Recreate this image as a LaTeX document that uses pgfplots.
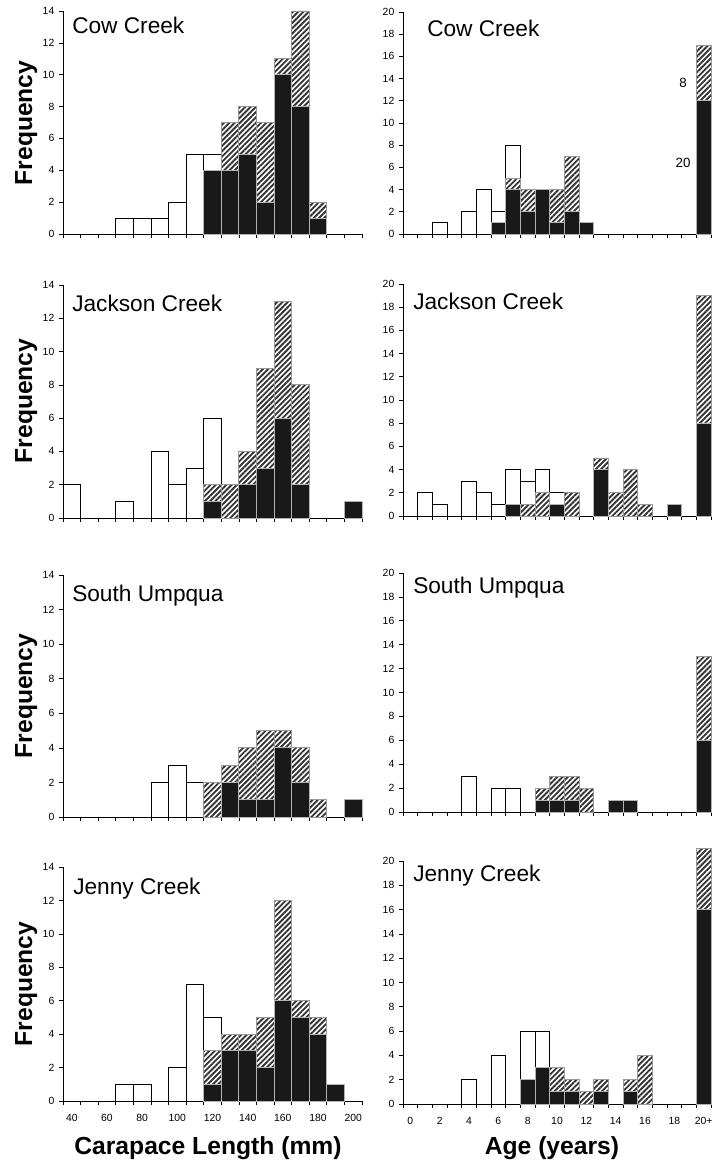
\documentclass[border=0pt]{standalone}
\usepackage{fontspec}
\setmainfont{Liberation Sans}
\usepackage{pgfplots}
\pgfplotsset{compat=1.18}
\usetikzlibrary{patterns.meta}
\tikzset{ttl/.style={anchor=base west, inner sep=0pt, font=\fontsize{17}{20}\selectfont}}
\pgfplotsset{
  hist/.style={ybar, bar width=1, bar shift=0pt, line width=0.6pt},
  wbar/.style={hist, fill=white, draw=black},
  hbar/.style={hist, draw=gray!80, pattern={Lines[angle=45,distance=2.8pt,line width=1.4pt]}, pattern color=black!80},
  bbar/.style={hist, fill=black!90, draw=gray!60},
  panel/.style={scale only axis, clip=false, anchor=south west,
    axis x line=bottom, axis y line=left, axis line style={-, line width=0.6pt},
    tick align=outside, ymin=0, enlargelimits=false,
    tick style={black, line width=0.5pt}, major tick length=3pt, minor tick length=3pt,
    major x tick style={draw=none},
    /pgf/number format/assume math mode=true,
    ticklabel style={font=\fontsize{7.8}{9}\selectfont},
    xticklabel style={yshift=-3.5pt}},
  sizepanel/.style={panel, width=224.25pt, xmin=-0.5, xmax=16.5, ymax=14, ytick={0,2,...,14},
    xtick={0,2,...,16}, minor xtick={-0.5,0.5,...,16.5}},
  agepanel/.style={panel, width=231pt, xmin=-0.5, xmax=20.5, ymax=20, ytick={0,2,...,20},
    xtick={0,2,...,20}, minor xtick={-0.5,0.5,...,20.5}},
  notlab/.style={xticklabels={}}
}
\begin{document}
\begin{tikzpicture}
\path[use as bounding box] (0,0) rectangle (535.5pt,870pt);
% ---------- Row 1 ----------
\begin{axis}[sizepanel, notlab, at={(47.25pt,694.5pt)}, height=167.25pt]
\addplot[wbar] coordinates {(3,1)(4,1)(5,1)(6,2)(7,5)(8,5)};
\addplot[hbar] coordinates {(9,7)(10,8)(11,7)(12,11)(13,14)(14,2)};
\addplot[bbar] coordinates {(8,4)(9,4)(10,5)(11,2)(12,10)(13,8)(14,1)};
\node[ttl, xshift=6.75pt, yshift=-17.25pt] at (rel axis cs:0,1) {Cow Creek};
\end{axis}
\begin{axis}[agepanel, notlab, at={(302.25pt,694.5pt)}, height=166.5pt]
\addplot[wbar] coordinates {(2,1)(4,2)(5,4)(6,2)(7,8)};
\addplot[hbar] coordinates {(7,5)(8,4)(10,4)(11,7)(20,17)};
\addplot[bbar] coordinates {(6,1)(7,4)(8,2)(9,4)(10,1)(11,2)(12,1)(20,12)};
\node[ttl, xshift=18pt, yshift=-18.75pt] at (rel axis cs:0,1) {Cow Creek};
\node[anchor=base, inner sep=0pt, font=\fontsize{10}{12}\selectfont] at (axis cs:18.6,13.2) {8};
\node[anchor=base, inner sep=0pt, font=\fontsize{10}{12}\selectfont] at (axis cs:18.6,6.0) {20};
\end{axis}
% ---------- Row 2 ----------
\begin{axis}[sizepanel, notlab, at={(47.25pt,481.5pt)}, height=174.75pt]
\addplot[wbar] coordinates {(0,2)(3,1)(5,4)(6,2)(7,3)(8,6)};
\addplot[hbar] coordinates {(8,2)(9,2)(10,4)(11,9)(12,13)(13,8)};
\addplot[bbar] coordinates {(8,1)(10,2)(11,3)(12,6)(13,2)(16,1)};
\node[ttl, xshift=6.75pt, yshift=-20.25pt] at (rel axis cs:0,1) {Jackson Creek};
\end{axis}
\begin{axis}[agepanel, notlab, at={(302.25pt,483pt)}, height=174pt]
\addplot[wbar] coordinates {(1,2)(2,1)(4,3)(5,2)(6,1)(7,4)(8,3)(9,4)(10,2)};
\addplot[hbar] coordinates {(8,1)(9,2)(11,2)(13,5)(14,2)(15,4)(16,1)(20,19)};
\addplot[bbar] coordinates {(7,1)(10,1)(13,4)(18,1)(20,8)};
\node[ttl, xshift=7.5pt, yshift=-19.5pt] at (rel axis cs:0,1) {Jackson Creek};
\end{axis}
% ---------- Row 3 ----------
\begin{axis}[sizepanel, notlab, at={(47.25pt,257.25pt)}, height=181.5pt]
\addplot[wbar] coordinates {(5,2)(6,3)(7,2)};
\addplot[hbar] coordinates {(8,2)(9,3)(10,4)(11,5)(12,5)(13,4)(14,1)};
\addplot[bbar] coordinates {(9,2)(10,1)(11,1)(12,4)(13,2)(16,1)};
\node[ttl, xshift=6.75pt, yshift=-20.25pt] at (rel axis cs:0,1) {South Umpqua};
\end{axis}
\begin{axis}[agepanel, notlab, at={(302.25pt,261pt)}, height=179.25pt]
\addplot[wbar] coordinates {(4,3)(6,2)(7,2)};
\addplot[hbar] coordinates {(9,2)(10,3)(11,3)(12,2)(20,13)};
\addplot[bbar] coordinates {(9,1)(10,1)(11,1)(14,1)(15,1)(20,6)};
\node[ttl, xshift=7.5pt, yshift=-15.75pt] at (rel axis cs:0,1) {South Umpqua};
\end{axis}
% ---------- Row 4 ----------
\begin{axis}[sizepanel, at={(47.25pt,44.25pt)}, height=175.5pt,
  xticklabels={40,60,80,100,120,140,160,180,200}]
\addplot[wbar] coordinates {(3,1)(4,1)(6,2)(7,7)(8,5)};
\addplot[hbar] coordinates {(8,3)(9,4)(10,4)(11,5)(12,12)(13,6)(14,5)};
\addplot[bbar] coordinates {(8,1)(9,3)(10,3)(11,2)(12,6)(13,5)(14,4)(15,1)};
\node[ttl, xshift=7.5pt, yshift=-21pt] at (rel axis cs:0,1) {Jenny Creek};
\end{axis}
\begin{axis}[agepanel, at={(302.25pt,42pt)}, height=182.25pt,
  xticklabels={0,2,4,6,8,10,12,14,16,18,20+}]
\addplot[wbar] coordinates {(4,2)(6,4)(8,6)(9,6)};
\addplot[hbar] coordinates {(10,3)(11,2)(12,1)(13,2)(15,2)(16,4)(20,21)};
\addplot[bbar] coordinates {(8,2)(9,3)(10,1)(11,1)(13,1)(15,1)(20,16)};
\node[ttl, xshift=7.5pt, yshift=-15.75pt] at (rel axis cs:0,1) {Jenny Creek};
\end{axis}
% ---------- Axis titles ----------
\begin{scope}[every node/.style={font=\fontsize{18.5}{22}\selectfont\bfseries, inner sep=0pt}]
\node[rotate=90, anchor=base] at (24pt,777.75pt) {Frequency};
\node[rotate=90, anchor=base] at (24pt,569.25pt) {Frequency};
\node[rotate=90, anchor=base] at (24pt,348pt) {Frequency};
\node[rotate=90, anchor=base] at (24pt,132pt) {Frequency};
\node[anchor=base] at (156pt,3.75pt) {Carapace Length (mm)};
\node[anchor=base] at (414pt,3.75pt) {Age (years)};
\end{scope}
\end{tikzpicture}
\end{document}
